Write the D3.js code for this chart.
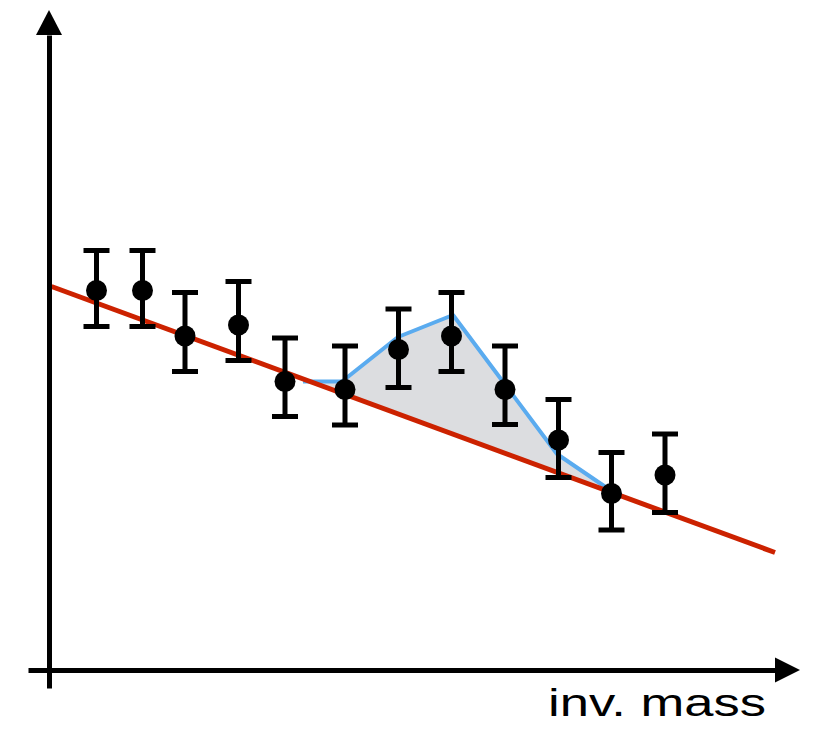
<!DOCTYPE html>
<html>
<head>
<meta charset="utf-8">
<script src="https://cdn.jsdelivr.net/npm/d3@7"></script>
<style>
  html, body { margin: 0; padding: 0; background: #fff; }
  svg { display: block; }
</style>
</head>
<body>
<svg id="chart"></svg>
<script>
// measured points (mass, counts) with error bar bounds
const mass   = [9.5, 18.7, 27.2, 37.9, 47.2, 59.2, 69.9, 80.5, 91.2, 101.9, 112.5, 123.2];
const counts = [75.9, 75.9, 66.8, 69.0, 57.7, 56.1, 64.1, 66.8, 56.1, 46.0, 35.3, 39.0];
const errHi  = [83.9, 83.9, 75.5, 77.7, 66.4, 64.8, 72.2, 75.5, 64.8, 54.1, 43.5, 47.2];
const errLo  = [68.7, 68.7, 59.7, 61.9, 50.7, 49.0, 56.5, 59.7, 49.1, 38.5, 28.0, 31.5];

// background fit (straight line)
const bgMass   = [0.5, 145.2];
const bgCounts = [76.7, 23.5];

// signal + background model
const sigMass   = [50.8, 58.6, 69.8, 80.8, 101.6, 111.6];
const sigCounts = [57.7, 57.7, 66.6, 71.0, 43.2, 36.4];

const xLabel = "inv. mass";

const width = 818;
const height = 729;

const svg = d3.select("#chart").attr("width", width).attr("height", height);

const x = d3.scaleLinear().domain([-4.2, 145.2]).range([28, 775]);
const y = d3.scaleLinear().domain([-3.6, 127]).range([688, 35]);

const bg = d3.scaleLinear().domain(bgMass).range(bgCounts);

// shaded excess between model and background
const sig = sigMass.map((m, i) => [m, sigCounts[i]]);
svg.append("path")
  .datum(sig)
  .attr("fill", "#dcdde0")
  .attr("d", d3.area()
    .x(d => x(d[0]))
    .y0(d => y(bg(d[0])))
    .y1(d => y(d[1])));

svg.append("path")
  .datum(sig)
  .attr("fill", "none")
  .attr("stroke", "#5aabef")
  .attr("stroke-width", 4)
  .attr("stroke-linejoin", "round")
  .attr("d", d3.line().x(d => x(d[0])).y(d => y(d[1])));

svg.append("path")
  .datum(bgMass.map((m, i) => [m, bgCounts[i]]))
  .attr("fill", "none")
  .attr("stroke", "#cc2200")
  .attr("stroke-width", 5)
  .attr("d", d3.line().x(d => x(d[0])).y(d => y(d[1])));

// axes
const xAxis = svg.append("g")
  .attr("transform", `translate(0,${y(0)})`)
  .call(d3.axisBottom(x).tickValues([]).tickSizeOuter(0));
const yAxis = svg.append("g")
  .attr("transform", `translate(${x(0)},0)`)
  .call(d3.axisLeft(y).tickValues([]).tickSizeOuter(0));
svg.selectAll(".domain").attr("stroke", "#000").attr("stroke-width", 5);

const xEnd = x.range()[1], yEnd = y.range()[1];
svg.append("path")
  .attr("fill", "#000")
  .attr("d", `M${xEnd},${y(0) - 12.5}L${xEnd + 25},${y(0)}L${xEnd},${y(0) + 12.5}Z`);
svg.append("path")
  .attr("fill", "#000")
  .attr("d", `M${x(0) - 13},${yEnd}L${x(0)},${yEnd - 25}L${x(0) + 13},${yEnd}Z`);

svg.append("text")
  .attr("x", 548)
  .attr("y", 716)
  .attr("font-family", "'Liberation Sans', Arial, sans-serif")
  .attr("font-size", 38)
  .attr("textLength", 218)
  .attr("lengthAdjust", "spacingAndGlyphs")
  .attr("fill", "#000")
  .text(xLabel);

// data points with error bars
const pts = mass.map((m, i) => ({m, c: counts[i], hi: errHi[i], lo: errLo[i]}));
const g = svg.append("g").selectAll("g").data(pts).join("g");
g.append("line")
  .attr("x1", d => x(d.m)).attr("x2", d => x(d.m))
  .attr("y1", d => y(d.hi)).attr("y2", d => y(d.lo))
  .attr("stroke", "#000").attr("stroke-width", 5);
g.append("line")
  .attr("x1", d => x(d.m) - 13).attr("x2", d => x(d.m) + 13)
  .attr("y1", d => y(d.hi)).attr("y2", d => y(d.hi))
  .attr("stroke", "#000").attr("stroke-width", 5);
g.append("line")
  .attr("x1", d => x(d.m) - 13).attr("x2", d => x(d.m) + 13)
  .attr("y1", d => y(d.lo)).attr("y2", d => y(d.lo))
  .attr("stroke", "#000").attr("stroke-width", 5);
g.append("circle")
  .attr("cx", d => x(d.m)).attr("cy", d => y(d.c))
  .attr("r", 10.5)
  .attr("fill", "#000");
</script>
</body>
</html>
